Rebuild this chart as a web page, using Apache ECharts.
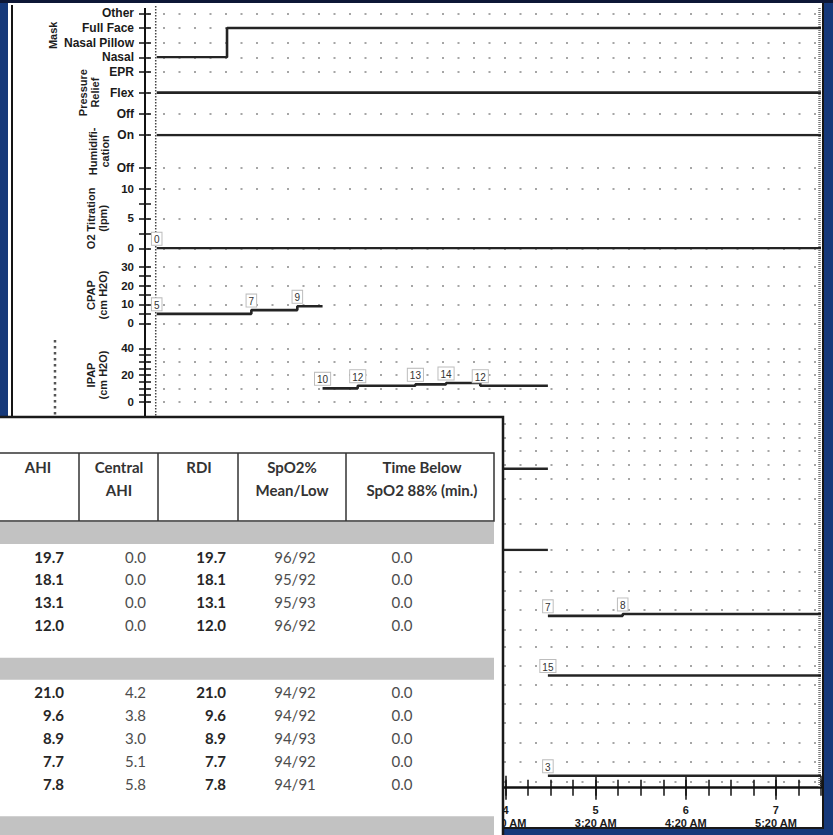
<!DOCTYPE html>
<html><head><meta charset="utf-8">
<script src="https://cdn.jsdelivr.net/npm/echarts@6/dist/echarts.min.js"></script>
<style>
html,body{margin:0;padding:0;background:#16397a;width:833px;height:835px;overflow:hidden}
#topband{position:absolute;left:0;top:0;width:833px;height:3px;background:#0d1736}
#page{position:absolute;left:8px;top:3px;width:816px;height:826px;background:#fff;box-sizing:border-box;border-right:2px solid #151515;border-bottom:2px solid #1a1a1a}
#pageline{position:absolute;left:11px;top:5px;width:2px;height:822px;background:#151515}
#chart{position:absolute;left:0;top:0;width:833px;height:835px}
</style></head><body>
<div id="topband"></div><div id="page"></div><div id="pageline"></div><div id="chart"></div>
<script>
// ---------------- data ----------------
const maskCategories = ['Nasal', 'Nasal Pillow', 'Full Face', 'Other'];
const maskTimes = [0.13, 0.91, 7.5];
const maskValues = ['Nasal', 'Full Face', 'Full Face'];

const reliefCategories = ['Off', 'Flex', 'EPR'];
const reliefTimes = [0.13, 7.5];
const reliefValues = ['Flex', 'Flex'];

const humidCategories = ['Off', 'On'];
const humidTimes = [0.13, 7.5];
const humidValues = ['On', 'On'];

const o2Times = [0.13, 7.5];
const o2Values = [0, 0];

const cpapTimes = [0.13, 1.18, 1.69, 1.97];
const cpapValues = [5, 7, 9, 9];

const ipapTimes = [1.97, 2.36, 3.0, 3.34, 3.72, 4.47];
const ipapValues = [10, 12, 13, 14, 12, 12];

const epapTimes = [1.97, 4.47];
const epapValues = [7, 7];

const rateTimes = [1.97, 4.47];
const rateValues = [0, 0];

const asvEpapTimes = [4.47, 5.3, 7.5];
const asvEpapValues = [7, 8, 8];

const maxPsTimes = [4.47, 7.5];
const maxPsValues = [15, 15];

const minPsTimes = [4.47, 7.5];
const minPsValues = [3, 3];

const hourLabels = [0, 1, 2, 3, 4, 5, 6, 7];
const timeLabels = ['10:20 PM', '11:20 PM', '12:20 AM', '1:20 AM', '2:20 AM', '3:20 AM', '4:20 AM', '5:20 AM'];
const recordStart = 0.13;
const recordEnd = 7.5;

// table data
const tableHeaders = ['AHI', 'Central\nAHI', 'RDI', 'SpO2%\nMean/Low', 'Time Below\nSpO2 88% (min.)'];
const groupSizes = [4, 5];
const ahi = [19.7, 18.1, 13.1, 12.0, 21.0, 9.6, 8.9, 7.7, 7.8];
const centralAhi = [0.0, 0.0, 0.0, 0.0, 4.2, 3.8, 3.0, 5.1, 5.8];
const rdi = [19.7, 18.1, 13.1, 12.0, 21.0, 9.6, 8.9, 7.7, 7.8];
const spo2MeanLow = ['96/92', '95/92', '95/93', '96/92', '94/92', '94/92', '94/93', '94/92', '94/91'];
const timeBelow88 = [0.0, 0.0, 0.0, 0.0, 0.0, 0.0, 0.0, 0.0, 0.0];

// ---------------- layout / style ----------------
const FONT = '"Liberation Sans", Arial, sans-serif';
const TFONT = 'Lato, "Open Sans", sans-serif';
const LINE = '#242424';
const DOT = '#a6a6a6';
const GRID_LEFT = 145, GRID_RIGHT = 12;

const panels = [
  {top: 13.3, bottom: 57.3, nameGap: 86, name: 'Mask', cats: maskCategories, times: maskTimes, values: maskValues},
  {top: 71.5, bottom: 113.7, nameGap: 44, name: 'Pressure\nRelief', cats: reliefCategories, times: reliefTimes, values: reliefValues},
  {top: 135, bottom: 167.7, nameGap: 34, name: 'Humidifi-\ncation', cats: humidCategories, times: humidTimes, values: humidValues},
  {top: 188.5, bottom: 248.3, nameGap: 36, name: 'O2 Titration\n(lpm)', min: 0, max: 10, interval: 5, minor: 2, showLabels: true, tags: true, times: o2Times, values: o2Values},
  {top: 266.7, bottom: 323.3, nameGap: 36, name: 'CPAP\n(cm H2O)', min: 0, max: 30, interval: 10, minor: 2, showLabels: true, tags: true, times: cpapTimes, values: cpapValues},
  {top: 348.3, bottom: 401.7, nameGap: 36, name: 'IPAP\n(cm H2O)', min: 0, max: 40, interval: 10, minor: 2, showLabels: true, labelEvery: 20, tags: true, times: ipapTimes, values: ipapValues},
  {top: 424, bottom: 478.3, min: 0, max: 40, interval: 10, minor: 2, tags: true, times: epapTimes, values: epapValues},
  {top: 498.3, bottom: 550, min: 0, max: 20, interval: 10, minor: 2, tags: true, times: rateTimes, values: rateValues},
  {top: 571.7, bottom: 629.3, min: 0, max: 30, interval: 10, minor: 2, tags: true, times: asvEpapTimes, values: asvEpapValues},
  {top: 647, bottom: 704, min: 0, max: 30, interval: 10, minor: 2, tags: true, times: maxPsTimes, values: maxPsValues},
  {top: 722.7, bottom: 781.7, min: 0, max: 30, interval: 10, minor: 2, tags: true, times: minPsTimes, values: minPsValues}
];

const grids = [], xAxes = [], yAxes = [], series = [];
const tickStyle = {color: '#111', width: 1.5};

panels.forEach((p, i) => {
  grids.push({left: GRID_LEFT, right: GRID_RIGHT, top: p.top, height: p.bottom - p.top, outerBoundsMode: 'none', containLabel: false});
  xAxes.push({type: 'value', gridIndex: i, min: 0, max: recordEnd, show: false});
  // categorical panels use a value axis of category indices (so the x axis stays the step base axis)
  const scale = p.cats
    ? {type: 'value', min: 0, max: p.cats.length - 1, interval: 1}
    : {type: 'value', min: p.min, max: p.max, interval: p.interval};
  let fmt;
  if (p.cats) fmt = v => p.cats[Math.round(v)] || '';
  else if (p.labelEvery) fmt = v => (v % p.labelEvery === 0 ? String(v) : '');
  yAxes.push(Object.assign({gridIndex: i, position: 'left'}, scale, {
    name: p.name || '', nameLocation: 'middle', nameRotate: 90, nameGap: p.nameGap || 30, nameMoveOverlap: false,
    nameTextStyle: {fontFamily: FONT, fontWeight: 'bold', fontSize: 11, color: '#1e1e1e', lineHeight: 12},
    axisLine: {show: true, onZero: false, lineStyle: {color: '#111', width: 2}},
    axisTick: {show: true, inside: false, length: 6, lineStyle: tickStyle},
    minorTick: p.minor ? {show: true, splitNumber: p.minor, length: 6, lineStyle: tickStyle} : {show: false},
    axisLabel: {show: !!(p.cats || p.showLabels), margin: 11, fontFamily: FONT, fontWeight: 'bold',
      fontSize: p.cats ? 12 : 11.5, color: '#1a1a1a', formatter: fmt},
    splitLine: {show: true, lineStyle: {color: DOT, width: 2, type: [2, 13.5], dashOffset: 13}}
  }));
  yAxes.push(Object.assign({gridIndex: i, position: 'left'}, scale, {
    axisLine: {show: false}, axisLabel: {show: false}, splitLine: {show: false},
    axisTick: {show: true, inside: true, length: 6, lineStyle: tickStyle},
    minorTick: p.minor ? {show: true, splitNumber: p.minor, length: 6, lineStyle: tickStyle} : {show: false}
  }));
  const yOf = v => (p.cats ? p.cats.indexOf(v) : v);
  series.push({
    type: 'line', xAxisIndex: i, yAxisIndex: 2 * i, step: 'end', symbol: 'circle', symbolSize: 1, showSymbol: true,
    itemStyle: {color: 'rgba(0,0,0,0)'}, lineStyle: {color: LINE, width: 2.6}, silent: true, animation: false, z: 5,
    label: {position: 'top', distance: 3, formatter: q => String(q.value[1]), fontFamily: FONT, fontSize: 10, color: '#333',
      backgroundColor: '#fff', borderColor: '#bdbdbd', borderWidth: 1, padding: [2, 2, 0, 2]},
    data: p.times.map((t, k) => ({
      value: [t, yOf(p.values[k])],
      label: {show: !!p.tags && k < p.times.length - 1 && (k === 0 || p.values[k] !== p.values[k - 1])}
    }))
  });
});

// time axis grid
const tg = panels.length;
grids.push({left: GRID_LEFT, right: GRID_RIGHT, top: 779, height: 8.7, outerBoundsMode: 'none', containLabel: false});
const timeBase = {type: 'value', gridIndex: tg, min: 0, max: recordEnd, position: 'bottom', splitLine: {show: false}};
xAxes.push(Object.assign({}, timeBase, {interval: 0.25, axisLine: {show: false}, axisLabel: {show: false},
  axisTick: {show: true, inside: false, length: 8, lineStyle: tickStyle}}));
xAxes.push(Object.assign({}, timeBase, {interval: 0.25, axisLine: {show: false}, axisLabel: {show: false},
  axisTick: {show: true, inside: true, length: 8, lineStyle: tickStyle}}));
xAxes.push(Object.assign({}, timeBase, {interval: 1, axisLine: {show: false}, axisLabel: {show: false},
  axisTick: {show: true, inside: true, length: 12, lineStyle: tickStyle}}));
xAxes.push(Object.assign({}, timeBase, {interval: 1,
  axisLine: {show: true, onZero: false, lineStyle: {color: '#111', width: 2.5}},
  axisTick: {show: true, inside: false, length: 12, lineStyle: tickStyle},
  axisLabel: {show: true, margin: 16, fontFamily: FONT, fontWeight: 'bold', fontSize: 11, color: '#1a1a1a', lineHeight: 13,
    showMaxLabel: false,
    formatter: v => (hourLabels.indexOf(v) >= 0 ? v + '\n' + timeLabels[v] : '')}}));
yAxes.push({type: 'value', gridIndex: tg, min: 0, max: 1, show: false});

const chart = echarts.init(document.getElementById('chart'), null, {renderer: 'svg', width: 833, height: 835});
chart.setOption({animation: false, backgroundColor: 'transparent', grid: grids, xAxis: xAxes, yAxis: yAxes, series: series});

// ---------------- decorations & table overlay ----------------
const px = h => chart.convertToPixel({xAxisIndex: 0}, h);
const xAxisPos = px(0), xStart = px(recordStart), xEnd = px(recordEnd);
const g = [];
g.push({type: 'line', z: 1, shape: {x1: xAxisPos, y1: 8, x2: xAxisPos, y2: 790}, style: {stroke: '#111', lineWidth: 2}});
g.push({type: 'line', z: 1, shape: {x1: xStart - 1, y1: 6, x2: xStart - 1, y2: 787}, style: {stroke: '#444', lineWidth: 1.5, lineDash: [1.5, 1.5]}});
g.push({type: 'line', z: 1, shape: {x1: xEnd - 1.5, y1: 8, x2: xEnd - 1.5, y2: 787}, style: {stroke: '#777', lineWidth: 2.5, lineDash: [1, 1]}});
g.push({type: 'line', z: 1, shape: {x1: 55, y1: 340, x2: 55, y2: 420}, style: {stroke: '#555', lineWidth: 2.5, lineDash: [2.5, 3.5]}});

const TZ = 100;
const T = {left: -5, top: 417, right: 503, headTop: 453, headBottom: 521, innerRight: 494,
  colEdges: [79, 158, 238, 346], headCenters: [38, 119, 199, 292, 422], headLine1: 467, lineH: 23,
  bandH: 22, rowStep: 22.9};
g.push({type: 'rect', z: TZ, shape: {x: T.left, y: T.top, width: T.right - T.left, height: 840 - T.top},
  style: {fill: '#fff', stroke: '#1a1a1a', lineWidth: 2.5}});
g.push({type: 'rect', z: TZ + 1, shape: {x: T.left, y: T.headTop, width: T.innerRight - T.left, height: T.headBottom - T.headTop},
  style: {fill: 'none', stroke: '#333', lineWidth: 1.5}});
T.colEdges.forEach(x => g.push({type: 'line', z: TZ + 1, shape: {x1: x, y1: T.headTop, x2: x, y2: T.headBottom}, style: {stroke: '#333', lineWidth: 1.5}}));
tableHeaders.forEach((h, i) => {
  const lines = h.split('\n').length;
  g.push({type: 'text', z: TZ + 2, style: {text: h, x: T.headCenters[i], y: T.headLine1 + (lines - 1) * T.lineH / 2,
    align: 'center', verticalAlign: 'middle', textAlign: 'center', textVerticalAlign: 'middle', lineHeight: T.lineH,
    font: 'bold 15px ' + TFONT, fill: '#333'}});
});
// rows
let y = T.headBottom + 1;
let r = 0;
const colText = [
  {arr: ahi, x: 64, align: 'right', bold: true, fmt: v => v.toFixed(1)},
  {arr: centralAhi, x: 146, align: 'right', bold: false, fmt: v => v.toFixed(1)},
  {arr: rdi, x: 226, align: 'right', bold: true, fmt: v => v.toFixed(1)},
  {arr: spo2MeanLow, x: 295, align: 'center', bold: false, fmt: v => v},
  {arr: timeBelow88, x: 402, align: 'center', bold: false, fmt: v => v.toFixed(1)}
];
groupSizes.forEach((n, gi) => {
  g.push({type: 'rect', z: TZ + 1, shape: {x: 0, y: y, width: T.innerRight, height: T.bandH}, style: {fill: '#c2c2c2'}});
  let ry = y + T.bandH + 12.5;
  for (let k = 0; k < n; k++, r++) {
    colText.forEach(c => {
      g.push({type: 'text', z: TZ + 2, style: {text: c.fmt(c.arr[r]), x: c.x, y: ry, align: c.align, textAlign: c.align,
        verticalAlign: 'middle', textVerticalAlign: 'middle', font: (c.bold ? 'bold ' : '') + '15px ' + TFONT,
        fill: c.bold ? '#262626' : '#4d4d4d'}});
    });
    ry += T.rowStep;
  }
  y = ry - T.rowStep + 10 + 22.5;
});
g.push({type: 'rect', z: TZ + 1, shape: {x: 0, y: y, width: T.innerRight, height: 30}, style: {fill: '#c2c2c2'}});
chart.setOption({graphic: {elements: g}});
</script></body></html>
